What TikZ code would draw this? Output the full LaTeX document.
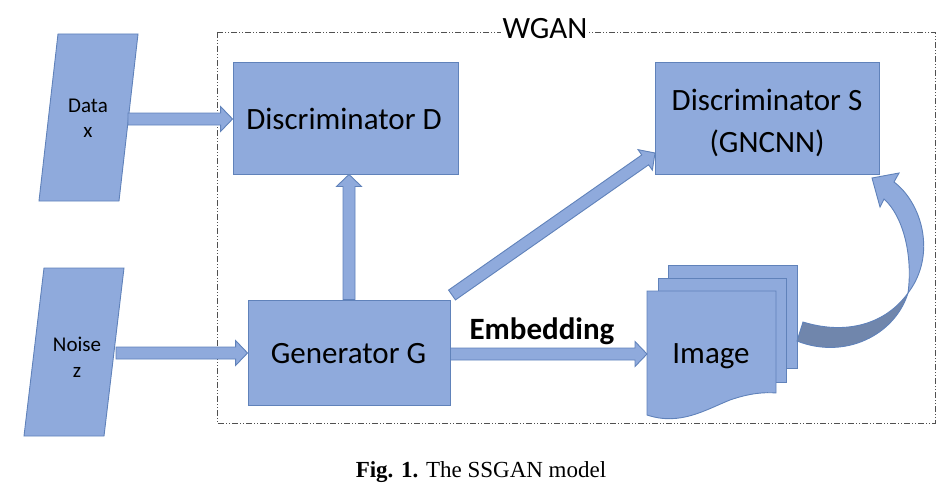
\documentclass[tikz,border=0pt]{standalone}
\usepackage{fontspec}
\setmainfont{Carlito}
\newfontfamily\capfont{Liberation Serif}
\usetikzlibrary{calc}
\definecolor{bfill}{RGB}{143,170,220}
\definecolor{bline}{RGB}{96,130,186}
\definecolor{bdark}{RGB}{112,134,172}
\definecolor{frame}{RGB}{80,80,80}
\tikzset{
  shapebox/.style={draw=bline,fill=bfill,line width=0.9pt},
  boxnode/.style={shapebox,rectangle,inner sep=0pt},
  big/.style={font=\fontsize{31}{36}\selectfont,inner sep=0pt,anchor=base},
  small/.style={font=\fontsize{21}{26}\selectfont,inner sep=0pt,anchor=base},
  arr/.style={draw=bline,fill=bfill,line width=0.9pt,line join=miter},
}
\newcommand\blockarrow[2]{%
  \path[arr] let \p1=($(#2)-(#1)$), \n1={atan2(\y1,\x1)}, \n2={veclen(\x1,\y1)} in
    [shift={(#1)}, rotate=\n1]
    (0pt,-6pt) -- (\n2-12pt,-6pt) -- (\n2-12pt,-12.5pt) -- (\n2,0pt)
    -- (\n2-12pt,12.5pt) -- (\n2-12pt,6pt) -- (0pt,6pt) -- cycle;}
\begin{document}
\begin{tikzpicture}[x=1pt,y=-1pt]
\path[use as bounding box] (0,0) rectangle (949,487);

% WGAN frame
\draw[frame,line width=0.7pt,dash pattern=on 6pt off 2pt on 1pt off 2pt on 1pt off 2pt]
  (217,32) rectangle (935,423);
\node[big,fill=white,inner xsep=2pt] (wgan) at (545,38) {WGAN};

% input parallelograms
\path[shapebox] (58,34) -- (138,34) -- (119,201) -- (39,201) -- cycle;
\node[small] (data1) at (88,112) {Data};
\node[small] (data2) at (88,137) {x};
\coordinate (dataR) at (128,119);

\path[shapebox] (44,268) -- (124,268) -- (104,436) -- (24,436) -- cycle;
\node[small] (noise1) at (77,351) {Noise};
\node[small] (noise2) at (77,377) {z};
\coordinate (noiseR) at (116,353);

% boxes
\node[boxnode,minimum width=225pt,minimum height=112pt] (D) at (345.5,118) {};
\node[big] (Dt) at (344,129) {Discriminator D};
\node[boxnode,minimum width=224pt,minimum height=112pt] (S) at (767,118) {};
\node[big] (St1) at (767,110) {Discriminator S};
\node[big] (St2) at (767,152) {(GNCNN)};
\node[boxnode,minimum width=202pt,minimum height=105pt] (G) at (349,352.5) {};
\node[big] (Gt) at (348.5,363) {Generator G};

% image stack
\path[shapebox] (668,265) rectangle (797,368);
\path[shapebox] (658,278) rectangle (786,382);
\path[shapebox] (647,291) -- (647,415)
  .. controls (680,426) and (705,410) .. (730,400)
  .. controls (750,393) and (765,392) .. (776,393) -- (776,291) -- cycle;
\node[big] (img) at (711,363) {Image};
\coordinate (imgW) at (647,354);

% straight block arrows
\coordinate (Dbot) at (G.north |- D.south);
\coordinate (Gtr) at (452,295);
\coordinate (Sl) at (655,153);
\blockarrow{dataR}{D.west |- dataR}
\blockarrow{noiseR}{G.west |- noiseR}
\blockarrow{G.north}{Dbot}
\blockarrow{Gtr}{Sl}
\blockarrow{G.east |- imgW}{imgW}
\node[font=\bfseries\fontsize{31}{36}\selectfont,inner sep=0pt,anchor=base] (emb) at (542,339) {Embedding};

% curved arrow from image stack to discriminator S
\coordinate (twist) at (908,293);
\coordinate (tailT) at (803,322);
\coordinate (tailB) at (797,341);
\path[arr,fill=bdark] (twist) .. controls (885,325) and (845,335) .. (tailT)
  -- (tailB) .. controls (845,360) and (895,335) .. (twist) -- cycle;
\path[arr] (894,182) .. controls (922,203) and (937,255) .. (twist)
  .. controls (913,255) and (903,216) .. (884,199) -- (880,207) -- (872,178)
  -- (899,173) -- cycle;

% caption
\node[font=\capfont\fontsize{23}{27}\selectfont,inner sep=0pt,anchor=base] (cap) at (481,477)
  {\textbf{Fig. 1.} The SSGAN model};
\end{tikzpicture}
\end{document}
